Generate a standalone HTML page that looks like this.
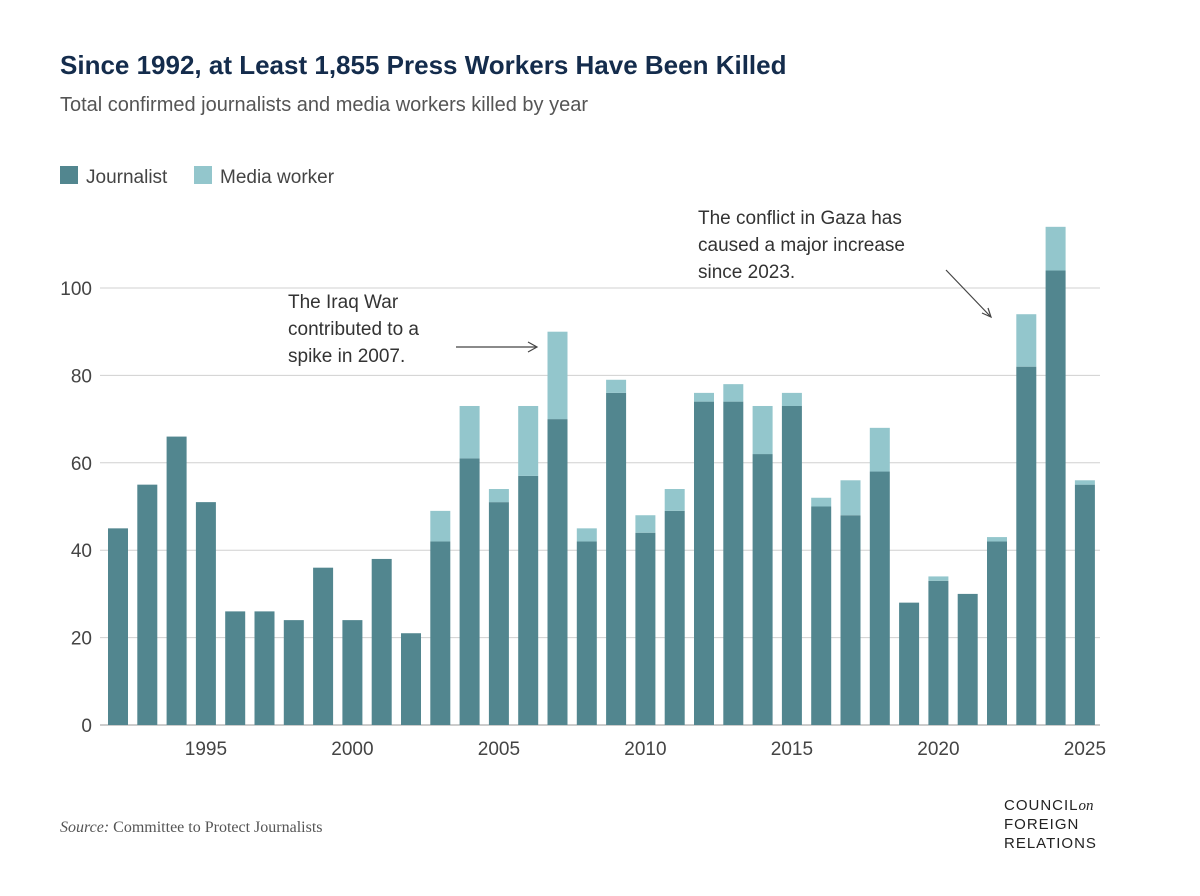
<!DOCTYPE html>
<html><head><meta charset="utf-8"><style>
body{margin:0;background:#fff;width:1200px;height:891px;overflow:hidden;font-family:"Liberation Sans",sans-serif}
</style></head><body>
<svg id="c" width="1200" height="891" xmlns="http://www.w3.org/2000/svg">
<text x="60" y="74" font-size="26" font-weight="bold" fill="#142c4c">Since 1992, at Least 1,855 Press Workers Have Been Killed</text>
<text x="60" y="111" font-size="20" fill="#555">Total confirmed journalists and media workers killed by year</text>
<g>
<rect x="60" y="166" width="18" height="18" fill="#52868f"/>
<text x="86" y="183" font-size="19" fill="#444">Journalist</text>
<rect x="194" y="166" width="18" height="18" fill="#93c6cc"/>
<text x="220" y="183" font-size="19" fill="#444">Media worker</text>
</g>
<g id="grid"></g><g id="bars"></g><g id="xt"></g>
<g>
<text font-size="19" fill="#333"><tspan x="288" y="308">The Iraq War</tspan><tspan x="288" y="335">contributed to a</tspan><tspan x="288" y="362">spike in 2007.</tspan></text>
<line x1="456" y1="347" x2="536" y2="347" stroke="#444" stroke-width="1.2"/>
<path d="M528 342 L537 347 L528 352" fill="none" stroke="#444" stroke-width="1.2"/>
</g>
<g>
<text font-size="19" fill="#333"><tspan x="698" y="224">The conflict in Gaza has</tspan><tspan x="698" y="251">caused a major increase</tspan><tspan x="698" y="278">since 2023.</tspan></text>
<line x1="946" y1="270" x2="990" y2="316" stroke="#444" stroke-width="1.2"/>
<path d="M982 313 L991 317 L988 308" fill="none" stroke="#444" stroke-width="1.2"/>
</g>
<text x="60" y="832" font-size="16" fill="#555" font-family="Liberation Serif, serif"><tspan font-style="italic">Source:</tspan> Committee to Protect Journalists</text>
<g font-size="15" fill="#222" letter-spacing="1">
<text x="1004" y="810">COUNCIL<tspan font-style="italic" font-family="Liberation Serif, serif" letter-spacing="0">on</tspan></text>
<text x="1004" y="829">FOREIGN</text>
<text x="1004" y="848">RELATIONS</text>
</g>
</svg>
<script>
const years=[];for(let y=1992;y<=2025;y++)years.push(y);
const journalists=[45,55,66,51,26,26,24,36,24,38,21,42,61,51,57,70,42,76,44,49,74,74,62,73,50,48,58,28,33,30,42,82,104,55];
const mediaWorkers=[0,0,0,0,0,0,0,0,0,0,0,7,12,3,16,20,3,3,4,5,2,4,11,3,2,8,10,0,1,0,1,12,10,1];
const yTicks=[0,20,40,60,80,100];
const xTicks=[1995,2000,2005,2010,2015,2020,2025];
const NS="http://www.w3.org/2000/svg";
const y=v=>725-v*4.37;
const x=yr=>118+(yr-1992)*29.3;
const bw=20;
function mk(t,a,p){const e=document.createElementNS(NS,t);for(const k in a)e.setAttribute(k,a[k]);p.appendChild(e);return e;}
const g=document.getElementById('grid');
yTicks.forEach(v=>{
 const l=mk('line',{x1:100,x2:1100,y1:y(v),y2:y(v),stroke:v===0?'#999':'#d0d0d0','stroke-width':1},g);
 
 
 const t=mk('text',{x:92,y:y(v)+7,'font-size':19,fill:'#444','text-anchor':'end'},g);t.textContent=v;
 
 
});
const b=document.getElementById('bars');
years.forEach((yr,i)=>{
 const j=journalists[i],m=mediaWorkers[i];
 const r=mk('rect',{x:x(yr)-bw/2,y:y(j),width:bw,height:y(0)-y(j),fill:'#52868f'},b);
 
 
 if(m>0){const r2=mk('rect',{x:x(yr)-bw/2,y:y(j+m),width:bw,height:y(j)-y(j+m),fill:'#93c6cc'},b);
 
 }
});
const xt=document.getElementById('xt');
xTicks.forEach(yr=>{const t=mk('text',{x:x(yr),y:755,'font-size':19,fill:'#444','text-anchor':'middle'},xt);t.textContent=yr;
 
 });
</script>
</body></html>
